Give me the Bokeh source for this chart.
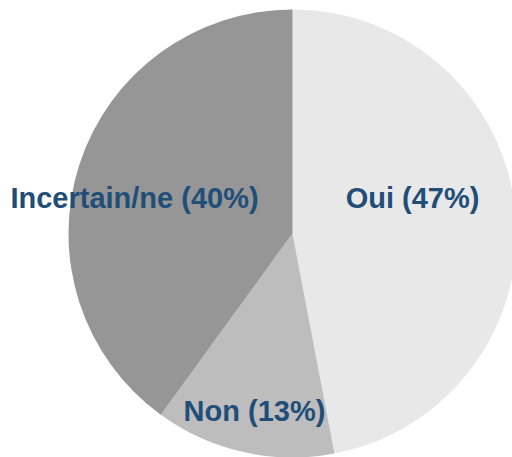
import math
from bokeh.plotting import figure
from bokeh.models import ColumnDataSource
from bokeh.core.properties import value
from bokeh.embed import file_html
from bokeh.resources import INLINE

categories = ["Oui", "Non", "Incertain/ne"]
percents = [47, 13, 40]
colors = ["#e8e8e8", "#bdbdbd", "#969696"]

W, H = 512, 457
cx, cy, R = 292, H - 233, 224

total = sum(percents)
starts, ends = [], []
acc = 0.0
for v in percents:
    a0 = math.pi / 2 - 2 * math.pi * acc / total
    acc += v
    a1 = math.pi / 2 - 2 * math.pi * acc / total
    starts.append(a0)
    ends.append(a1)

src = ColumnDataSource(dict(cat=categories, val=percents, color=colors,
                            start=starts, end=ends))

p = figure(width=W, height=H, x_range=(0, W), y_range=(0, H),
           output_backend="svg", toolbar_location=None, min_border=0)
p.axis.visible = False
p.grid.visible = False
p.outline_line_color = None
p.background_fill_color = "white"
p.border_fill_color = "white"

p.wedge(x=cx, y=cy, radius=R, start_angle="start", end_angle="end",
        direction="clock", fill_color="color", line_color=None, source=src)

# label anchors (page offsets from pie centre, in px)
label_offsets = {"Oui": (120, 36), "Non": (-38, -177), "Incertain/ne": (-158, 36)}
lx = [cx + label_offsets[c][0] for c in categories]
ly = [cy + label_offsets[c][1] for c in categories]
labels = [f"{c} ({v}%)" for c, v in zip(categories, percents)]
p.text(x=lx, y=ly, text=labels, text_align="center", text_baseline="middle",
       text_font=value("Liberation Sans"), text_font_style="bold",
       text_font_size="29px", text_color="#1f4e79")

open("out.html", "w").write(file_html(p, INLINE))
